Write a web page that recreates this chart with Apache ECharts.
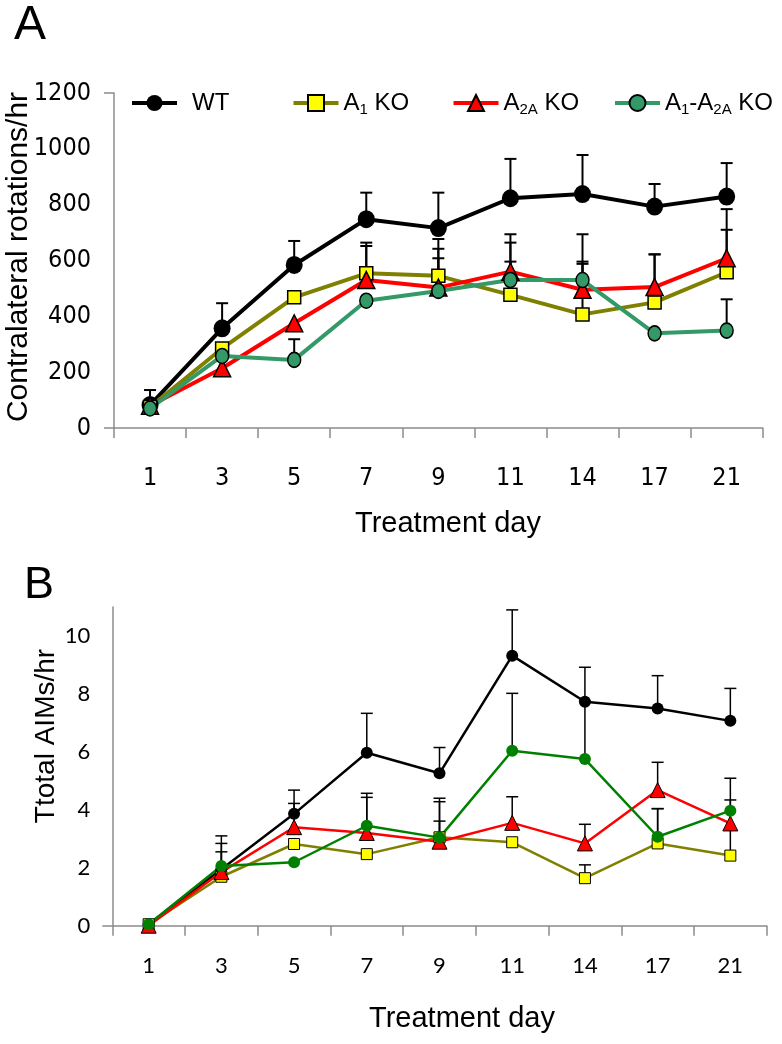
<!DOCTYPE html>
<html><head><meta charset="utf-8">
<script src="https://cdn.jsdelivr.net/npm/echarts@6/dist/echarts.min.js"></script>
<style>html,body{margin:0;padding:0;background:#fff}#c{width:782px;height:1044px}</style>
</head><body><div id="c"></div>
<script>
// ---------- data ----------
const days = ['1', '3', '5', '7', '9', '11', '14', '17', '21'];
const yLabelsB = [0, 2, 4, 6, 8, 10];

// Panel A: contralateral rotations/hr (mean) and upward error (SEM)
const rotWT      = [82, 357, 584, 748, 716, 823, 838, 793, 829];
const rotWTErr   = [54, 90, 86, 95, 127, 141, 140, 81, 120];
const rotA1      = [75, 285, 468, 554, 545, 477, 407, 450, 558];
const rotA1Err   = [null, null, null, 110, 132, 119, 181, 172, 152];
const rotA2A     = [80, 214, 375, 530, 503, 560, 495, 505, 608];
const rotA2AErr  = [null, null, null, 122, 139, 134, 101, 117, 176];
const rotDKO     = [70, 258, 244, 456, 491, 530, 530, 339, 349];
const rotDKOErr  = [null, null, 74, null, 117, 134, 164, null, 112];

// Panel B: total AIMs/hr (mean) and upward error (SEM)
const aimWT      = [0.05, 1.95, 3.86, 5.97, 5.26, 9.32, 7.73, 7.50, 7.07];
const aimWTErr   = [null, 1.15, 0.82, 1.36, 0.89, 1.58, 1.19, 1.13, 1.12];
const aimA1      = [0.05, 1.69, 2.82, 2.47, 3.05, 2.88, 1.64, 2.84, 2.42];
const aimA1Err   = [null, null, null, null, 0.56, null, 0.46, 1.20, 0.90];
const aimA2A     = [0, 1.85, 3.40, 3.20, 2.90, 3.55, 2.84, 4.68, 3.53];
const aimA2AErr  = [null, 0.99, 0.82, 1.23, 1.38, 0.90, 0.66, 0.96, 0.81];
const aimDKO     = [0.05, 2.06, 2.19, 3.45, 3.04, 6.04, 5.75, 3.07, 3.97];
const aimDKOErr  = [null, 0.49, null, 1.12, 1.36, 1.98, 2.00, 0.97, 1.12];

const names = ['WT', 'A1 KO', 'A2A KO', 'A1-A2A KO'];

// ---------- helpers ----------
function errData(mean, err) {
  const out = [];
  mean.forEach((m, i) => { if (err[i] != null) out.push([i, m, m + err[i]]); });
  return out;
}
function errSeries(mean, err, xi, lw) {
  return {
    type: 'custom', xAxisIndex: xi, yAxisIndex: xi, z: 1, silent: true,
    encode: { x: 0, y: [1, 2] },
    data: errData(mean, err),
    renderItem: function (params, api) {
      const p0 = api.coord([api.value(0), api.value(1)]);
      const p1 = api.coord([api.value(0), api.value(2)]);
      const hw = 6;
      return { type: 'group', children: [
        { type: 'line', shape: { x1: p0[0], y1: p0[1], x2: p1[0], y2: p1[1] }, style: { stroke: '#000', lineWidth: lw } },
        { type: 'line', shape: { x1: p1[0] - hw, y1: p1[1], x2: p1[0] + hw, y2: p1[1] }, style: { stroke: '#000', lineWidth: lw } }
      ] };
    }
  };
}
function lineSeries(name, data, xi, color, lw, symbol, size, fill, border) {
  return {
    name: name, type: 'line', xAxisIndex: xi, yAxisIndex: xi, data: data, z: 3,
    clip: false, symbol: symbol, symbolSize: size, showAllSymbol: true,
    lineStyle: { color: color, width: lw },
    itemStyle: { color: fill, borderColor: border ? '#000' : fill, borderWidth: border ? border : 0 },
    emphasis: { disabled: true }
  };
}

const axisGrey = '#8c8c8c';
const narrow = "'Liberation Sans Narrow','DejaVu Sans Condensed',sans-serif";
const sans = "'Liberation Sans',Arial,sans-serif";

const legendRich = {
  a: { fontFamily: sans, fontSize: 24, color: '#000', lineHeight: 28, verticalAlign: 'middle' },
  w: { fontFamily: sans, fontSize: 24, color: '#000', lineHeight: 28, verticalAlign: 'middle', padding: [0, 0, 0, 10] },
  s: { fontFamily: sans, fontSize: 15, color: '#000', lineHeight: 28, verticalAlign: 'bottom' }
};
const legendText = {
  'WT': '{w|WT}',
  'A1 KO': '{a|A}{s|1}{a| KO}',
  'A2A KO': '{a|A}{s|2A}{a| KO}',
  'A1-A2A KO': '{a|A}{s|1}{a|-A}{s|2A}{a| KO}'
};
function legend(name, left) {
  return {
    data: [name], left: left, top: 91, padding: 0, itemWidth: 45, itemHeight: 20,
    selectedMode: false, formatter: n => legendText[n],
    lineStyle: { width: 4 },
    textStyle: { rich: legendRich }
  };
}

const option = {
  animation: false,
  backgroundColor: '#fff',
  legend: [legend('WT', 130), legend('A1 KO', 291.5), legend('A2A KO', 451.5), legend('A1-A2A KO', 613)],
  grid: [
    { left: 114, top: 93, width: 648.7, height: 335 },
    { left: 112.3, top: 607, width: 654.4, height: 318.7 }
  ],
  xAxis: [
    { type: 'category', gridIndex: 0, data: days, boundaryGap: true,
      axisLine: { lineStyle: { color: axisGrey, width: 1.5 } },
      axisTick: { show: true, interval: 0, length: 10, lineStyle: { color: axisGrey, width: 1.5 } },
      axisLabel: { interval: 0, margin: 38, fontFamily: narrow, fontSize: 25, color: '#000' } },
    { type: 'category', gridIndex: 1, data: days, boundaryGap: true,
      axisLine: { lineStyle: { color: axisGrey, width: 1.5 } },
      axisTick: { show: true, interval: 0, length: 10, lineStyle: { color: axisGrey, width: 1.5 } },
      axisLabel: { interval: 0, margin: 29, fontFamily: 'Lato, sans-serif', fontSize: 22, color: '#000' } }
  ],
  yAxis: [
    { type: 'value', gridIndex: 0, min: 0, max: 1200, interval: 200,
      splitLine: { show: false },
      axisLine: { show: true, lineStyle: { color: axisGrey, width: 1.5 } },
      axisTick: { show: true, length: 10, customValues: [0, 1200], lineStyle: { color: axisGrey, width: 1.5 } },
      axisLabel: { margin: 23, fontFamily: narrow, fontSize: 25, color: '#000', formatter: v => String(v) } },
    { type: 'value', gridIndex: 1, min: 0, max: 11, interval: 1,
      splitLine: { show: false },
      axisLine: { show: true, lineStyle: { color: axisGrey, width: 1.5 } },
      axisTick: { show: true, length: 10, customValues: [0], lineStyle: { color: axisGrey, width: 1.5 } },
      axisLabel: { margin: 22, customValues: yLabelsB, fontFamily: 'Lato, sans-serif', fontSize: 22, color: '#000', formatter: v => String(v) } }
  ],
  graphic: [
    { type: 'text', x: 30, y: 26, style: { text: 'A', fontFamily: sans, fontSize: 48, fill: '#000', textAlign: 'center', textVerticalAlign: 'middle' } },
    { type: 'text', x: 39, y: 586, style: { text: 'B', fontFamily: sans, fontSize: 45, fill: '#000', textAlign: 'center', textVerticalAlign: 'middle' } },
    { type: 'text', x: 19, y: 257, rotation: Math.PI / 2, style: { text: 'Contralateral rotations/hr', fontFamily: sans, fontSize: 30, fill: '#000', textAlign: 'center', textVerticalAlign: 'middle' } },
    { type: 'text', x: 46, y: 736, rotation: Math.PI / 2, style: { text: 'Ttotal AIMs/hr', fontFamily: sans, fontSize: 28, fill: '#000', textAlign: 'center', textVerticalAlign: 'middle' } },
    { type: 'text', x: 448, y: 524, style: { text: 'Treatment day', fontFamily: sans, fontSize: 29, fill: '#000', textAlign: 'center', textVerticalAlign: 'middle' } },
    { type: 'text', x: 462, y: 1019, style: { text: 'Treatment day', fontFamily: sans, fontSize: 29, fill: '#000', textAlign: 'center', textVerticalAlign: 'middle' } }
  ],
  series: [
    errSeries(rotWT, rotWTErr, 0, 2),
    errSeries(rotA1, rotA1Err, 0, 2),
    errSeries(rotA2A, rotA2AErr, 0, 2),
    errSeries(rotDKO, rotDKOErr, 0, 2),
    lineSeries(names[0], rotWT, 0, '#000000', 4, 'circle', [17, 18], '#000000', 0),
    lineSeries(names[1], rotA1, 0, '#808000', 4, 'rect', 13, '#ffff00', 1.5),
    lineSeries(names[2], rotA2A, 0, '#ff0000', 4, 'triangle', 17, '#ff0000', 1.5),
    lineSeries(names[3], rotDKO, 0, '#339966', 4, 'circle', [13, 15], '#339966', 1.5),

    errSeries(aimWT, aimWTErr, 1, 1.5),
    errSeries(aimA1, aimA1Err, 1, 1.5),
    errSeries(aimA2A, aimA2AErr, 1, 1.5),
    errSeries(aimDKO, aimDKOErr, 1, 1.5),
    lineSeries(names[0], aimWT, 1, '#000000', 2.5, 'circle', 12, '#000000', 0),
    lineSeries(names[1], aimA1, 1, '#808000', 2.5, 'rect', 11, '#ffff00', 1),
    lineSeries(names[2], aimA2A, 1, '#ff0000', 2.5, 'triangle', 15, '#ff0000', 1),
    lineSeries(names[3], aimDKO, 1, '#008000', 2.5, 'circle', 12, '#008000', 0)
  ]
};
const chart = echarts.init(document.getElementById('c'), null, { renderer: 'canvas' });
chart.setOption(option);
</script>
</body></html>
